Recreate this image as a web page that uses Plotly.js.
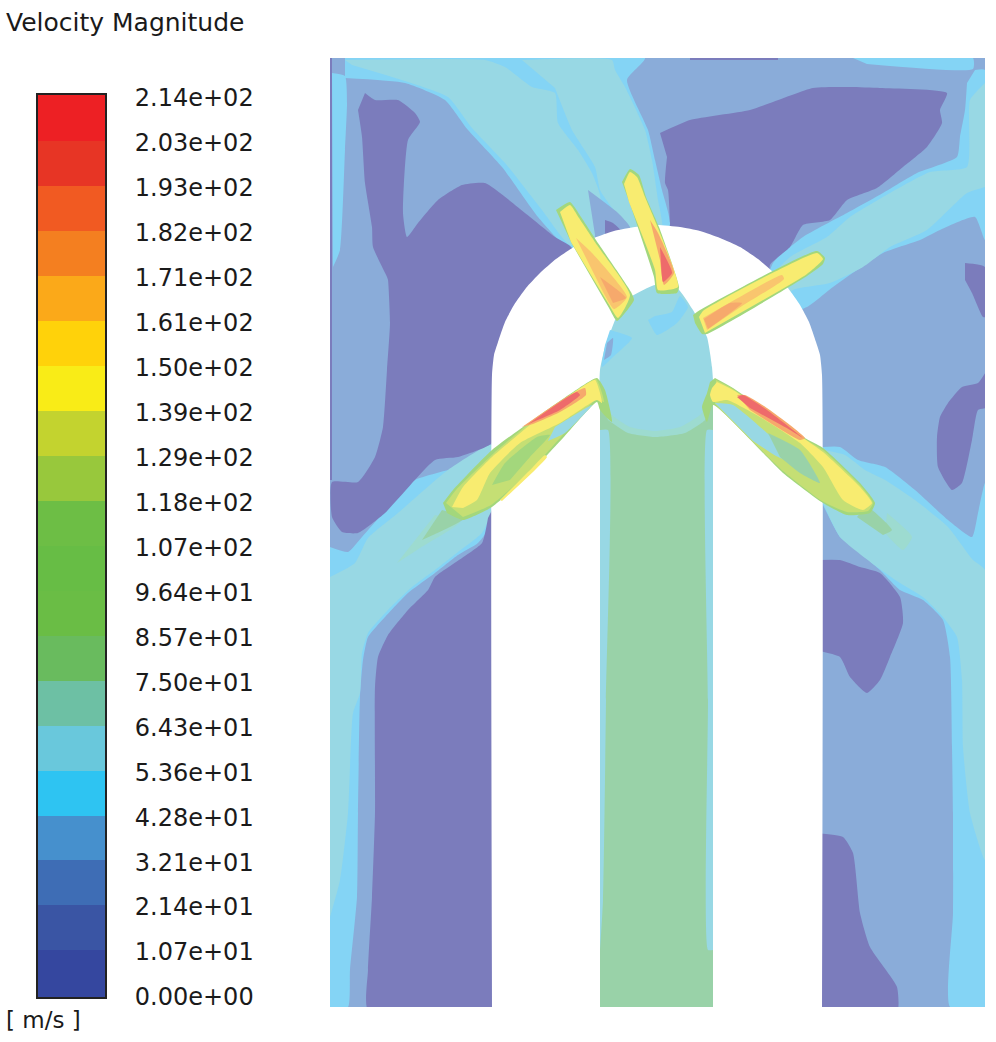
<!DOCTYPE html>
<html><head><meta charset="utf-8"><script src="https://cdn.plot.ly/plotly-3.0.1.min.js"></script>
<style>html,body{margin:0;padding:0;background:#fff}</style></head><body><div id="chart" style="width:996px;height:1042px"></div>
<script>
// ---- legend data ----
const tickLabels=["0.00e+00","1.07e+01","2.14e+01","3.21e+01","4.28e+01","5.36e+01","6.43e+01","7.50e+01","8.57e+01","9.64e+01","1.07e+02","1.18e+02","1.29e+02","1.39e+02","1.50e+02","1.61e+02","1.71e+02","1.82e+02","1.93e+02","2.03e+02","2.14e+02"];
const levels=[0,10.71,21.42,32.13,42.84,53.55,64.26,74.97,85.68,96.39,107.1,117.81,128.52,139.23,149.94,160.65,171.36,182.07,192.78,203.49,214.2];
const bandColors=["#35479F","#3A55A4","#3E6DB5","#4690CD","#2EC4F2","#69C8DC","#6DC0A4","#69BB5E","#6ABD45","#67BD45","#6DBE45","#98C83C","#C3D32F","#F9EC17","#FFD20A","#FBA919","#F47F20","#F15A22","#E73525","#ED2024"];
// ---- contour regions, [x,y] in the frame of the plot (top-left origin) ----
const frame=[[330,58],[985,58],[985,1007],[330,1007]];
const edgeLeft=[[330,58],[332,58],[332,480],[330,480]];
const edgeTop=[[690,58],[778,58],[778,60],[690,60]];
// light-blue bands
const lbFan=[[345,58],[645,58],[627,80],[648,130],[655,160],[662,190],[670,225],[650,250],[600,250],[570,250],[538,217],[502,167],[468,130],[445,100],[405,83],[345,78]];
const lbLeftStrip=[[332,73],[345,76],[347,103],[345,150],[340,250],[333,267]];
const lbTopRight=[[853,58],[973,58],[973,69],[867,64]];
const lbUpperRight=[[975,70],[985,70],[985,240],[975,217],[940,230],[920,240],[883,253],[833,287],[807,307],[760,320],[773,263],[803,237],[847,213],[883,193],[917,173],[957,157],[960,137],[965,110],[967,83]];
const lbLowerRight=[[823,447],[840,447],[858,460],[885,467],[915,490],[948,520],[972,537],[978,513],[985,483],[985,1007],[950,1007],[953,913],[953,813],[952,747],[950,657],[943,620],[923,600],[900,590],[880,570],[857,550],[840,537],[823,505]];
const lbLowerLeft=[[330,547],[348,552],[362,537],[392,503],[415,480],[458,467],[492,450],[492,523],[478,543],[458,555],[435,573],[408,593],[385,617],[368,637],[363,660],[360,697],[358,813],[357,897],[350,970],[348,1007],[330,1007]];
// teal bands
const tealFanA=[[345,60],[485,60],[505,67],[532,87],[555,93],[558,123],[578,150],[592,173],[600,195],[600,240],[570,245],[542,210],[505,163],[472,128],[448,97],[405,81],[352,65]];
const tealFanB=[[522,60],[612,60],[615,70],[625,87],[645,130],[652,160],[658,200],[662,228],[640,240],[610,205],[600,190],[595,167],[572,130],[555,88]];
const tealUpperRight=[[985,83],[970,100],[967,167],[930,172],[890,193],[850,217],[827,237],[790,257],[765,285],[775,310],[793,290],[830,283],[863,267],[890,247],[927,230],[967,193],[985,187]];
const tealLowerRight=[[823,450],[845,455],[865,470],[885,480],[915,500],[948,527],[973,560],[985,570],[985,860],[970,813],[963,747],[962,680],[957,637],[943,617],[923,597],[900,583],[877,567],[840,537],[823,503]];
const tealLowerLeft=[[330,577],[355,563],[368,538],[398,513],[448,470],[492,445],[492,510],[482,533],[458,552],[435,570],[412,587],[388,610],[368,633],[362,653],[360,693],[353,713],[348,813],[340,880],[330,917]];
// slow-flow pockets
const blueGap=[[588,190],[618,213],[630,227],[630,245],[595,245],[595,235]];
const purpleGap=[[605,220],[613,223],[622,232],[605,236]];
const purpleTopLeft=[[365,93],[375,100],[398,100],[415,113],[420,122],[408,140],[403,213],[407,237],[418,223],[438,200],[462,185],[485,183],[525,213],[555,237],[572,248],[560,300],[500,400],[492,443],[458,457],[435,460],[385,513],[358,533],[342,532],[332,517],[332,482],[358,482],[375,457],[383,427],[387,370],[390,323],[388,280],[387,277],[373,247],[372,227],[365,183],[362,137],[358,110]];
const purpleBottomLeft=[[488,518],[482,543],[462,558],[435,577],[428,590],[408,610],[388,635],[378,657],[375,687],[375,813],[372,897],[368,970],[368,1010],[492,1010],[492,510]];
const purpleTop=[[660,133],[690,120],[750,110],[813,88],[850,87],[880,88],[947,93],[940,110],[942,123],[927,147],[903,167],[877,188],[847,200],[830,220],[803,225],[790,247],[770,265],[770,300],[670,250],[670,223],[668,190],[665,183],[667,157]];
const purpleRightA=[[965,263],[985,267],[987,317],[983,317],[972,293],[965,280]];
const purpleRightB=[[987,370],[978,383],[962,387],[948,403],[940,417],[937,437],[938,467],[952,490],[962,483],[972,440],[978,410],[987,408]];
const purpleRightC=[[815,560],[840,560],[860,567],[880,573],[900,597],[903,623],[890,657],[880,680],[867,693],[850,677],[840,657],[815,650]];
const purpleRightD=[[815,833],[843,837],[853,853],[860,913],[870,947],[897,987],[897,1012],[815,1012]];
// the solid part between the channels
const hat=[[492,1010],[492,375],[494,355],[498,342],[505,322],[514,305],[526,288],[540,273],[556,259],[574,247],[594,238],[614,231],[635,227],[657,225],[680,227],[700,231],[720,238],[740,247],[758,259],[774,273],[788,288],[800,305],[809,322],[816,342],[820,355],[822,375],[822,1010]];
// inlet tube and hub
const tube=[[600,385],[713,385],[713,1007],[600,1007]];
const tubeEdgeL=[[600,430],[608,430],[606,700],[603,900],[600,950]];
const tubeEdgeR=[[713,430],[707,430],[708,700],[708,950],[713,950]];
const hubDome=[[600,395],[713,395],[705,420],[685,433],[655,437],[628,433],[608,420]];
const hub=[[630,297],[655,285],[677,288],[693,310],[707,337],[712,367],[713,395],[700,415],[680,427],[655,431],[630,427],[612,415],[600,395],[600,370],[605,347],[615,320]];
const hubPatchA=[[648,320],[657,335],[677,323],[688,307],[680,296],[672,312],[655,316]];
const hubPatchB=[[610,330],[632,338],[613,357],[602,367],[605,345]];
const hubPatchC=[[607,343],[613,338],[611,355],[604,360]];
// jet 1
const j1Edge=[[556,210],[570,202],[581,217],[598,243],[631,292],[634,300],[617,321],[609,308],[572,244]];
const j1Yellow=[[560,212],[570,205],[579,218],[597,245],[630,295],[618,318],[608,303],[571,242]];
const j1Orange=[[576,238],[592,253],[627,297],[614,309],[597,280]];
const j1Deep=[[600,277],[626,298],[613,303]];
// jet 2
const j2Edge=[[622,182],[630,169],[639,175],[646,197],[659,227],[679,287],[677,293],[657,293],[654,277],[630,204]];
const j2Yellow=[[624,184],[630,172],[637,177],[645,197],[658,228],[678,287],[658,290],[655,270],[629,202]];
const j2Orange=[[650,220],[658,233],[674,273],[664,285],[660,260]];
const j2Red=[[660,247],[672,273],[663,282],[661,263]];
// jet 3
const j3Edge=[[693,315],[700,310],[817,251],[825,258],[823,264],[807,276],[707,334],[702,334],[695,323]];
const j3Yellow=[[699,317],[703,311],[817,253],[823,259],[807,274],[705,333]];
const j3Orange=[[703,318],[745,294],[782,275],[784,279],[742,306],[707,330]];
const j3Deep=[[704,319],[730,303],[742,303],[708,329]];
// jet 4
const j4Edge=[[443,503],[453,490],[492,450],[530,422],[573,392],[597,378],[605,390],[612,422],[600,410],[597,402],[563,438],[533,470],[492,507],[463,520],[447,513]];
const j4Lime=[[446,503],[456,490],[494,453],[530,423],[573,393],[596,379],[604,402],[597,399],[561,437],[532,469],[491,505],[463,517]];
const j4Yellow=[[452,507],[463,487],[492,457],[530,425],[573,393],[595,380],[602,403],[597,400],[560,423],[520,443],[490,473],[477,500],[463,508]];
const j4YellowLow=[[500,500],[533,467],[545,455],[547,457],[535,470],[502,501]];
const j4Green=[[492,485],[505,463],[537,437],[550,435],[530,457],[510,480]];
const j4Teal=[[555,427],[592,405],[565,433],[548,441]];
const j4Orange=[[522,427],[568,396],[585,388],[586,395],[560,412],[533,424]];
const j4Red=[[527,425],[577,392],[580,395],[560,410],[533,422]];
const j4Wake=[[442,510],[465,518],[422,540]];
const j4WakeFaint=[[435,515],[460,522],[420,548],[397,563]];
// jet 5
const j5Edge=[[715,378],[733,388],[803,437],[823,448],[860,483],[875,503],[870,513],[847,515],[823,503],[783,473],[713,405],[707,422],[702,407],[707,393],[710,382]];
const j5Lime=[[716,380],[733,389],[803,438],[823,450],[860,485],[873,503],[868,511],[847,512],[822,501],[783,471],[715,404]];
const j5Yellow=[[717,382],[733,390],[803,438],[823,452],[860,487],[872,503],[863,510],[843,500],[823,467],[800,443],[760,417],[727,400],[713,402],[710,395],[712,388]];
const j5Green=[[768,433],[800,450],[820,483],[800,473],[780,457]];
const j5Teal=[[715,403],[733,405],[767,433],[795,460],[780,458],[753,441]];
const j5Orange=[[737,395],[745,395],[767,408],[805,438],[800,440],[750,410]];
const j5Red=[[737,397],[743,395],[767,410],[803,438],[790,430],[750,408]];
const j5Wake=[[857,517],[867,507],[892,530],[883,535]];
const j5WakeFaint=[[887,513],[912,537],[903,550],[885,533]];

// ---- paint order ----
const PURPLE="#7B7CBC",BLUE="#8AACD9",LB="#84D4F5",TEAL="#98D8E4",GREEN="#99D2A8",FAINT="#9DDBD0",YEL="#F8EC70",LIME="#C5DF74",EDGE="#A3D77C",ORA="#F6A96C",PALE="#F9C56E",RED="#EE6B6B";
const straight=[frame,edgeLeft,edgeTop,tube];
const layers=[
 [frame,BLUE],[edgeLeft,PURPLE],[edgeTop,PURPLE],
 [lbFan,LB],[lbLeftStrip,LB],[lbTopRight,LB],[lbUpperRight,LB],[lbLowerRight,LB],[lbLowerLeft,LB],
 [tealFanA,TEAL],[tealFanB,TEAL],[tealUpperRight,TEAL],[tealLowerRight,TEAL],[tealLowerLeft,TEAL],
 [blueGap,BLUE],[purpleGap,PURPLE],
 [purpleTopLeft,PURPLE],[purpleBottomLeft,PURPLE],[purpleTop,PURPLE],[purpleRightA,PURPLE],[purpleRightB,PURPLE],[purpleRightC,PURPLE],[purpleRightD,PURPLE],
 [j4WakeFaint,FAINT],[j4Wake,GREEN],[j5WakeFaint,FAINT],[j5Wake,GREEN],
 [hat,"#FFFFFF"],
 [tube,GREEN],[tubeEdgeL,TEAL],[tubeEdgeR,TEAL],[hubDome,FAINT],[hub,TEAL],[hubPatchA,LB],[hubPatchB,LB],[hubPatchC,BLUE],
 [j1Edge,EDGE],[j1Yellow,YEL],[j1Orange,PALE],[j1Deep,ORA],
 [j2Edge,EDGE],[j2Yellow,YEL],[j2Orange,ORA],[j2Red,RED],
 [j3Edge,EDGE],[j3Yellow,YEL],[j3Orange,PALE],[j3Deep,ORA],
 [j4Edge,EDGE],[j4Lime,LIME],[j4Yellow,YEL],[j4YellowLow,YEL],[j4Green,EDGE],[j4Teal,TEAL],[j4Orange,ORA],[j4Red,RED],
 [j5Edge,EDGE],[j5Lime,LIME],[j5Yellow,YEL],[j5Teal,TEAL],[j5Green,GREEN],[j5Orange,ORA],[j5Red,RED]
];
const traces=layers.map(([pts,color])=>({type:"scatter",mode:"lines",x:pts.map(p=>p[0]),y:pts.map(p=>p[1]),fill:"toself",fillcolor:color,line:{width:0,color:color,shape:straight.includes(pts)?"linear":"spline",smoothing:0.5},hoverinfo:"skip",showlegend:false,xaxis:"x",yaxis:"y"}));

// ---- legend bar ----
const barTop=214.9;
const edges=levels.map((v,i)=>i===0?v:(i===levels.length-1?barTop:v+0.4));
const n=bandColors.length;
const scale=[];bandColors.forEach((c,i)=>{scale.push([i/n,c]);scale.push([(i+1)/n,c]);});
traces.push({type:"heatmap",x:[0,1],y:edges,z:bandColors.map((c,i)=>[i+0.5]),zmin:0,zmax:n,colorscale:scale,showscale:false,hoverinfo:"skip",xaxis:"x2",yaxis:"y2"});

const W=996,H=1042,F="DejaVu Sans, sans-serif";
const layout={width:W,height:H,margin:{l:0,r:0,t:0,b:0},paper_bgcolor:"#fff",plot_bgcolor:"rgba(0,0,0,0)",showlegend:false,
 xaxis:{domain:[330/W,985/W],range:[330,985],visible:false,fixedrange:true},
 yaxis:{domain:[1-1007/H,1-58/H],range:[1007,58],visible:false,fixedrange:true},
 xaxis2:{domain:[38/W,105/W],range:[0,1],anchor:"y2",showticklabels:false,ticks:"",showgrid:false,zeroline:false,showline:true,mirror:true,linecolor:"#222",linewidth:2,fixedrange:true},
 yaxis2:{domain:[1-997/H,1-95/H],range:[0,barTop],anchor:"x2",side:"right",tickmode:"array",tickvals:levels,ticktext:tickLabels,ticks:"",ticklabelstandoff:23,showgrid:false,zeroline:false,showline:true,mirror:true,linecolor:"#222",linewidth:2,tickfont:{family:F,size:24,color:"#1a1a1a"},fixedrange:true},
 annotations:[
  {text:"Velocity Magnitude",xref:"paper",yref:"paper",x:4/W,y:1-22/H,xanchor:"left",yanchor:"middle",showarrow:false,font:{family:F,size:25,color:"#1a1a1a"}},
  {text:"[ m/s ]",xref:"paper",yref:"paper",x:4/W,y:1-1020/H,xanchor:"left",yanchor:"middle",showarrow:false,font:{family:F,size:23,color:"#1a1a1a"}}
 ]};
Plotly.newPlot("chart",traces,layout,{displayModeBar:false,staticPlot:true});
</script></body></html>
